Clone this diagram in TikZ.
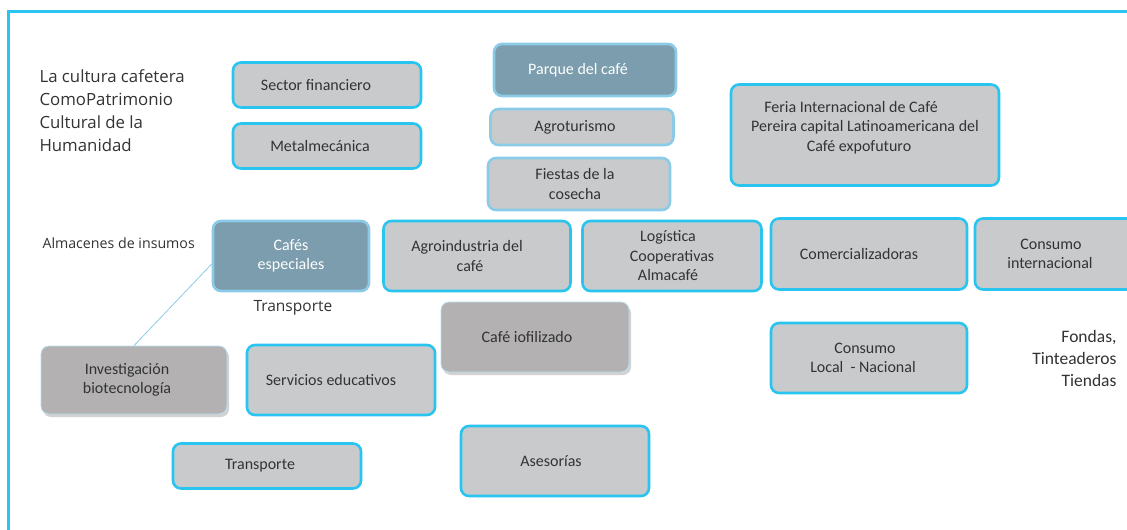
\documentclass[tikz,border=0pt]{standalone}
\usepackage{fontspec}
\setmainfont{Carlito}
\newfontfamily\osans{Open Sans}
\usetikzlibrary{shadows}
\definecolor{cyanb}{HTML}{29C5F0}
\definecolor{lightb}{HTML}{8CCBE8}
\definecolor{boxg}{HTML}{C9CACC}
\definecolor{steel}{HTML}{7B9DAD}
\definecolor{darkg}{HTML}{B3B1B2}
\definecolor{txt}{HTML}{333333}
\newcommand\lsh[1]{\hspace*{#1pt}}
\tikzset{
  base/.style={rounded corners=8pt, text=txt, font=\fontsize{16}{19.5}\selectfont, align=center},
  cbox/.style={base, draw=cyanb, line width=2.6pt, fill=boxg},
  lbox/.style={base, draw=lightb, line width=2.6pt, fill=boxg},
  sbox/.style={base, draw=lightb, line width=2.6pt, fill=steel, text=white},
  gbox/.style={base, draw=lightb!60, line width=0.8pt, fill=darkg, drop shadow={shadow xshift=2pt, shadow yshift=-3pt, opacity=0.35}},
  free/.style={text=txt, font=\osans\fontsize{14}{16}\selectfont},
}
\begin{document}
\begin{tikzpicture}[x=1pt,y=-1pt]
\useasboundingbox (0,0) rectangle (1127,530);
\fill[white] (0,0) rectangle (1127,530);
\draw[cyanb, line width=3pt] (8,535) -- (8,11) -- (1135,11);

\node[cbox, minimum width=188pt, minimum height=45pt] (sf) at (327,85) {Sector financiero\lsh{22}};
\node[cbox, minimum width=188pt, minimum height=45pt] (mm) at (327,146) {Metalmecánica\lsh{14}};
\node[sbox, minimum width=182pt, minimum height=52pt] (pc) at (585,70) {Parque del café\lsh{14}};
\node[lbox, minimum width=183pt, minimum height=36pt] (ag) at (582,127) {Agroturismo\lsh{14}};
\node[lbox, minimum width=182pt, minimum height=52pt] (fc) at (579,184) {Fiestas de la\lsh{8}\\cosecha\lsh{8}};
\node[cbox, minimum width=268pt, minimum height=101pt, text depth=18pt] (fe) at (865,135) {Feria Internacional de Café\lsh{28}\\Pereira capital Latinoamericana del\\Café expofuturo\lsh{12}};
\node[sbox, minimum width=156pt, minimum height=70pt] (ce) at (291,256) {Cafés\\especiales};
\node[cbox, minimum width=187pt, minimum height=70pt] (ai) at (477,256) {Agroindustria del\lsh{20}\\café\lsh{14}};
\node[cbox, minimum width=179pt, minimum height=70pt] (lo) at (672,256) {Logística\lsh{8}\\Cooperativas\lsh{8}\\Almacafé\lsh{8}};
\node[cbox, minimum width=196pt, minimum height=71pt] (co) at (869,254) {Comercializadoras\lsh{20}};
\node[cbox, minimum width=170pt, minimum height=71pt] (ci) at (1060,254) {Consumo\lsh{18}\\internacional\lsh{20}};
\node[gbox, minimum width=188pt, minimum height=70pt] (cl) at (535,337) {Café iofilizado\lsh{16}};
\node[gbox, minimum width=186pt, minimum height=68pt] (ib) at (134,380) {Investigación\lsh{14}\\biotecnología\lsh{14}};
\node[cbox, minimum width=188pt, minimum height=70pt] (se) at (341,380) {Servicios educativos\lsh{20}};
\node[cbox, minimum width=196pt, minimum height=70pt] (cn) at (869,358) {Consumo\lsh{8}\\Local\ \ - Nacional\lsh{12}};
\node[cbox, minimum width=188pt, minimum height=45pt] (tr) at (267,466) {Transporte\lsh{14}};
\node[cbox, minimum width=188pt, minimum height=70pt] (as) at (555,461) {Asesorías\lsh{8}};

\node[free, anchor=north west, align=left, font=\osans\fontsize{16.8}{23}\selectfont] (lc) at (36,66) {La cultura cafetera\\ComoPatrimonio\\Cultural de la\\Humanidad};
\node[free, anchor=west, font=\osans\fontsize{14.2}{16}\selectfont] (al) at (39,243) {Almacenes de insumos};
\node[free, anchor=west, font=\osans\fontsize{15.5}{16}\selectfont] (tt) at (250,308) {Transporte};
\node[free, anchor=north east, align=right, font=\fontsize{17.5}{22}\selectfont] (ft) at (1120,327) {Fondas,\\Tinteaderos\\Tiendas};

\draw[lightb, line width=0.8pt] (ce.west) ++(0,8) coordinate (ca) -- (ib.north);
\end{tikzpicture}
\end{document}
